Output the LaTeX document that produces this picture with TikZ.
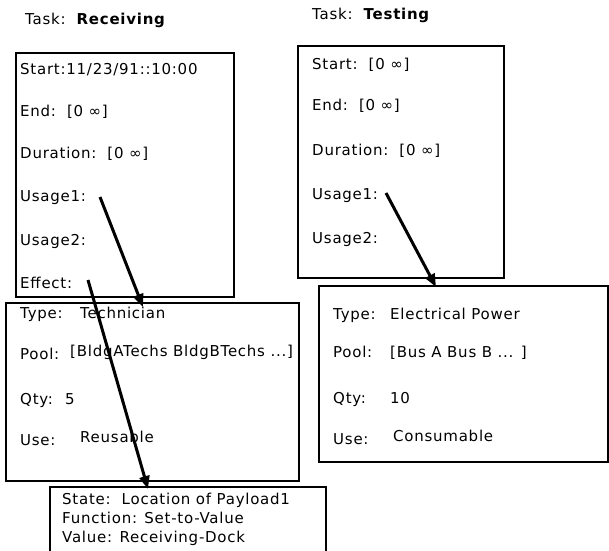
\documentclass[tikz,border=0pt]{standalone}
\usepackage{fontspec}
\setmainfont{DejaVu Sans}[LetterSpace=5]
\usetikzlibrary{arrows.meta}
\begin{document}
\begin{tikzpicture}[x=1pt,y=-1pt,
  frame/.style={draw,line width=2pt,anchor=north west,inner sep=0pt},
  lbl/.style={anchor=base west,inner sep=0pt,font=\fontsize{15}{17}\selectfont},
  title/.style={lbl,font=\fontsize{15}{17}\selectfont},
  link/.style={line width=3pt,-{Triangle[length=13pt,width=10pt]}}]
\useasboundingbox (0,0) rectangle (609,550);

% task frames
\node[frame,minimum width=218pt,minimum height=244pt] (recv) at (15,52) {};
\node[frame,minimum width=206pt,minimum height=232pt] (test) at (297,45) {};
% resource frames
\node[frame,minimum width=293pt,minimum height=178pt] (tech) at (5,302) {};
\node[frame,minimum width=289pt,minimum height=176pt] (power) at (318,285) {};
% effect frame
\node[frame,minimum width=276pt,minimum height=80pt] (effect) at (49,486) {};

% task titles
\node[title] (t1) at (25,24) {Task:\ \ \textbf{Receiving}};
\node[title] (t2) at (312,19) {Task:\ \ \textbf{Testing}};

% Receiving task slots
\node[lbl] (r1) at (20,74) {Start:11/23/91::10:00};
\node[lbl] (r2) at (20,116) {End:\ \ [0 ∞]};
\node[lbl] (r3) at (20,158) {Duration:\ \ [0 ∞]};
\node[lbl] (r4) at (20,201) {Usage1:};
\node[lbl] (r5) at (20,245) {Usage2:};
\node[lbl] (r6) at (20,288) {Effect:};

% Testing task slots
\node[lbl] (s1) at (312,69) {Start:\ \ [0 ∞]};
\node[lbl] (s2) at (312,110) {End:\ \ [0 ∞]};
\node[lbl] (s3) at (312,155) {Duration:\ \ [0 ∞]};
\node[lbl] (s4) at (312,199) {Usage1:};
\node[lbl] (s5) at (312,243) {Usage2:};

% Technician resource
\node[lbl] (a1) at (20,318) {Type:};
\node[lbl] (a1v) at (80,318) {Technician};
\node[lbl] (a2) at (20,359) {Pool:};
\node[lbl] (a2v) at (70,356) {[BldgATechs BldgBTechs ...]};
\node[lbl] (a3) at (20,404) {Qty:};
\node[lbl] (a3v) at (65,404) {5};
\node[lbl] (a4) at (20,445) {Use:};
\node[lbl] (a4v) at (80,442) {Reusable};

% Electrical power resource
\node[lbl] (b1) at (333,319) {Type:};
\node[lbl] (b1v) at (390,319) {Electrical Power};
\node[lbl] (b2) at (333,357) {Pool:};
\node[lbl] (b2v) at (390,357) {[Bus A Bus B ... ]};
\node[lbl] (b3) at (333,403) {Qty:};
\node[lbl] (b3v) at (390,403) {10};
\node[lbl] (b4) at (333,444) {Use:};
\node[lbl] (b4v) at (393,441) {Consumable};

% Effect slots
\node[lbl] (e1) at (62,504) {State:\ \ Location of Payload1};
\node[lbl] (e2) at (62,523) {Function: Set-to-Value};
\node[lbl] (e3) at (62,542) {Value: Receiving-Dock};

% links from slots to their values
\coordinate (u1) at (100,197);
\coordinate (u1t) at (143,307);
\coordinate (ef) at (88,280);
\coordinate (eft) at (148,489);
\coordinate (v1) at (386,193);
\coordinate (v1t) at (436,287);
\draw[link] (u1) -- (u1t);
\draw[link] (ef) -- (eft);
\draw[link] (v1) -- (v1t);
\end{tikzpicture}
\end{document}
